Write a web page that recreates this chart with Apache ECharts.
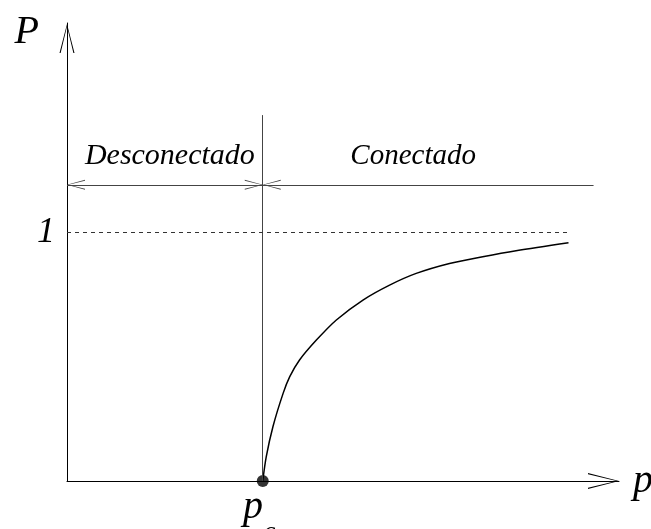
<!DOCTYPE html>
<html>
<head>
<meta charset="utf-8">
<script src="https://cdn.jsdelivr.net/npm/echarts@6/dist/echarts.min.js"></script>
<style>
  html, body { margin: 0; padding: 0; background: #fff; }
  #chart { width: 651px; height: 529px; }
</style>
</head>
<body>
<div id="chart"></div>
<script>
// Percolation order parameter P(p): zero below the threshold p_c, rising towards 1 above it.
const pc = 0.5;
const curveP    = [0.5, 0.509, 0.526, 0.552, 0.569, 0.594, 0.637, 0.688, 0.756, 0.824, 0.892, 0.977, 1.062, 1.147, 1.281];
const curveProb = [0.0, 0.098, 0.218, 0.352, 0.419, 0.486, 0.566, 0.647, 0.727, 0.787, 0.834, 0.874, 0.901, 0.925, 0.957];

const xMax = 1.41;          // end of the p axis
const yMax = 1.84;          // end of the P axis
const yTickValues = [1];    // the saturation level P = 1
const dashedEnd = 1.28;     // reach of the P = 1 guide
const phaseArrowY = 1.19;   // height of the phase-region arrows
const phaseArrowEnd = 1.345;
const pcLineTop = 1.47;     // top of the vertical line at p_c
const regionNames = ['Desconectado', 'Conectado'];

const serif = "'Liberation Serif', 'DejaVu Serif', 'Times New Roman', serif";
const bigArrow = 'path://M8,0L16,31L14.8,31L8,2.6L1.2,31L0,31Z';
const smallArrow = 'path://M5,0L10,18L9,18L5,1.6L1,18L0,18Z';
// open arrowhead whose tip sits exactly on the line end
const arrowEnd = { symbol: smallArrow, symbolSize: [10, 18], symbolOffset: [0, 9] };

const chart = echarts.init(document.getElementById('chart'), null, { renderer: 'canvas' });

const option = {
  animation: false,
  backgroundColor: '#ffffff',
  grid: { left: 67, right: 32, top: 23, bottom: 48, containLabel: false, outerBoundsMode: 'none' },
  xAxis: {
    type: 'value', min: 0, max: xMax,
    name: 'p', nameLocation: 'end', nameGap: 14,
    nameTextStyle: { fontFamily: serif, fontStyle: 'italic', fontSize: 40, color: '#000', padding: [0, 0, 22, 0] },
    axisLine: {
      show: true, onZero: false,
      lineStyle: { color: '#000', width: 1 },
      symbol: ['none', bigArrow], symbolSize: [18, 31], symbolOffset: [0, -15.5]
    },
    axisTick: { show: false },
    splitLine: { show: false },
    axisLabel: {
      show: true, customValues: [pc], margin: 6,
      formatter: () => '{p|p}{c|c}',
      rich: {
        p: { fontFamily: serif, fontStyle: 'italic', fontSize: 40, color: '#000', padding: [0, 0, 20, 0] },
        c: { fontFamily: serif, fontStyle: 'italic', fontSize: 28, color: '#000', verticalAlign: 'bottom', padding: [0, 7, 0, 0] }
      }
    }
  },
  yAxis: {
    type: 'value', min: 0, max: yMax,
    name: 'P', nameLocation: 'end', nameGap: -29,
    nameTextStyle: { fontFamily: serif, fontStyle: 'italic', fontSize: 40, color: '#000', align: 'right', verticalAlign: 'bottom', padding: [0, 28, 0, 0] },
    axisLine: {
      show: true, onZero: false,
      lineStyle: { color: '#000', width: 1 },
      symbol: ['none', bigArrow], symbolSize: [15, 31], symbolOffset: [0, -15.5]
    },
    axisTick: { show: false },
    splitLine: { show: false },
    axisLabel: {
      show: true, customValues: yTickValues, margin: 12,
      formatter: v => String(v),
      fontFamily: serif, fontStyle: 'italic', fontSize: 36, color: '#000'
    }
  },
  series: [
    {
      name: 'P(p)', type: 'line',
      data: curveP.map((p, i) => [p, curveProb[i]]),
      smooth: 0.3, showSymbol: false, silent: true,
      lineStyle: { color: '#000', width: 1.5 }
    },
    {
      name: 'guides', type: 'line', data: [], silent: true,
      markLine: {
        silent: true, symbol: 'none', animation: false,
        label: { show: false },
        data: [
          [ { coord: [pc, 0], lineStyle: { color: '#444', width: 1, type: 'solid' } }, { coord: [pc, pcLineTop] } ],
          [ { coord: [0, 1], lineStyle: { color: '#333', width: 1, type: [4, 4] } }, { coord: [dashedEnd, 1] } ]
        ]
      }
    },
    {
      name: 'regions', type: 'line', data: [], silent: true,
      markLine: {
        silent: true, animation: false,
        symbol: [smallArrow, smallArrow],
        lineStyle: { color: '#444', width: 1, type: 'solid' },
        label: {
          show: true, position: 'middle', distance: 14,
          fontFamily: serif, fontStyle: 'italic', fontSize: 30, color: '#000'
        },
        data: [
          [ Object.assign({ coord: [0, phaseArrowY], label: { formatter: regionNames[0], padding: [0, 0, 0, 10] } }, arrowEnd),
            Object.assign({ coord: [pc, phaseArrowY] }, arrowEnd) ],
          [ Object.assign({ coord: [pc, phaseArrowY], label: { formatter: regionNames[1], fontSize: 29, padding: [0, 30, 0, 0] } }, arrowEnd),
            { coord: [phaseArrowEnd, phaseArrowY], symbol: 'none' } ]
        ]
      }
    },
    {
      name: 'p_c', type: 'scatter', data: [[pc, 0]], silent: true,
      symbol: 'circle', symbolSize: 12, clip: false,
      itemStyle: { color: '#000' }
    }
  ]
};

chart.setOption(option);
</script>
</body>
</html>
